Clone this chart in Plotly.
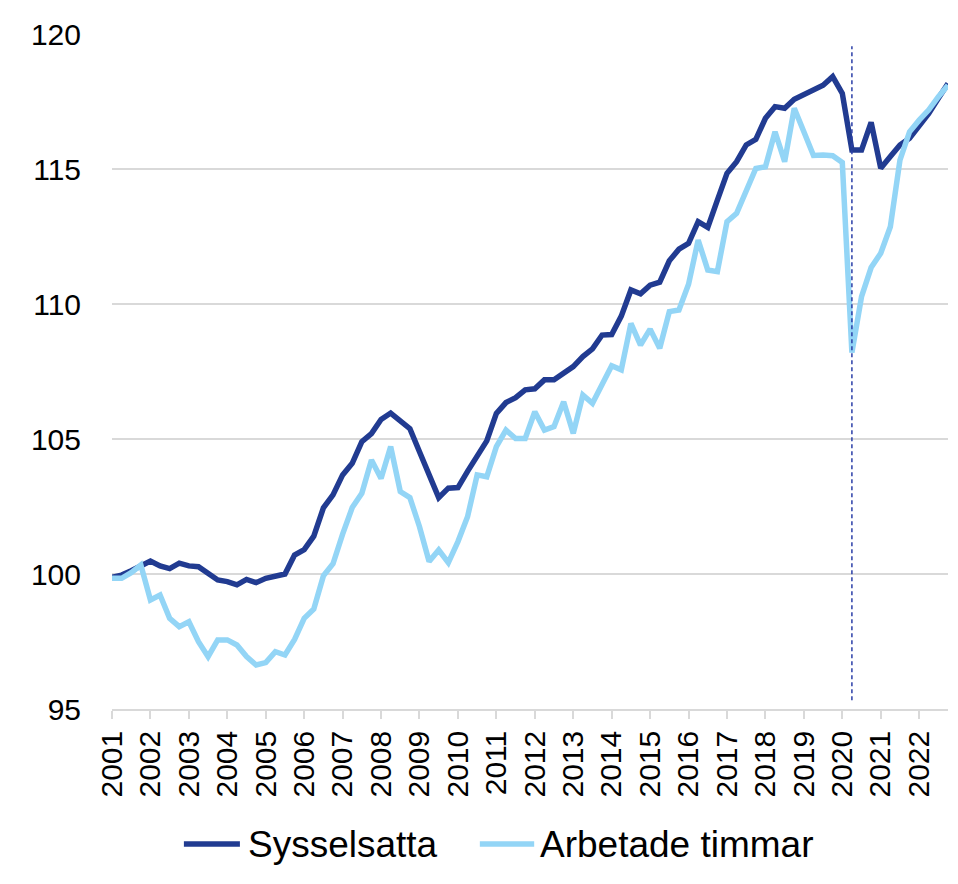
import plotly.graph_objects as go

# Kvartal 2001 K1 - 2022 K4
år = list(range(2001, 2023))
kvartal = [f"{a} K{k}" for a in år for k in range(1, 5)]

# Index, 2001 K1 = 100
sysselsatta = [
    99.88, 99.96, 100.12, 100.3, 100.48, 100.3, 100.2, 100.4,
    100.3, 100.27, 100.02, 99.78, 99.72, 99.6, 99.8, 99.68,
    99.84, 99.9, 100.0, 100.7, 100.9, 101.4, 102.45, 102.93,
    103.67, 104.1, 104.9, 105.2, 105.72, 105.96, 105.69, 105.38,
    104.53, 103.73, 102.83, 103.18, 103.2, 103.8, 104.35, 104.93,
    105.95, 106.35, 106.53, 106.82, 106.86, 107.19, 107.19, 107.43,
    107.68, 108.05, 108.34, 108.85, 108.87, 109.55, 110.52, 110.38,
    110.7, 110.81, 111.6, 112.03, 112.25, 113.05, 112.84, 113.85,
    114.84, 115.27, 115.89, 116.1, 116.88, 117.31, 117.25, 117.58,
    117.74, 117.9, 118.1, 118.42, 117.8, 115.7, 115.7, 116.73,
    115.03, 115.46, 115.89, 116.14, 116.57, 117.06, 117.62, 118.17,
]
arbetade_timmar = [
    99.84, 99.84, 100.05, 100.33, 99.04, 99.22, 98.36, 98.05,
    98.23, 97.49, 96.94, 97.56, 97.56, 97.37, 96.94, 96.63,
    96.72, 97.12, 97.0, 97.58, 98.36, 98.7, 99.93, 100.38,
    101.48, 102.46, 102.99, 104.22, 103.54, 104.72, 103.05, 102.83,
    101.75, 100.46, 100.89, 100.42, 101.2, 102.12, 103.67, 103.6,
    104.72, 105.33, 105.02, 105.02, 106.01, 105.33, 105.46, 106.38,
    105.21, 106.63, 106.32, 107.0, 107.71, 107.56, 109.28, 108.48,
    109.07, 108.36, 109.72, 109.78, 110.73, 112.37, 111.26, 111.2,
    113.05, 113.36, 114.25, 115.02, 115.08, 116.38, 115.27, 117.25,
    116.38, 115.5, 115.52, 115.49, 115.24, 108.2, 110.27, 111.35,
    111.88, 112.86, 115.33, 116.38, 116.81, 117.19, 117.68, 118.1,
]

pandemi_kvartal = "2020 K2"

mörkblå = "#213b91"
ljusblå = "#93d5f6"
grå = "#d9d9d9"
typsnitt = "Liberation Sans, Arial, sans-serif"

serier = [("Sysselsatta", sysselsatta, mörkblå), ("Arbetade timmar", arbetade_timmar, ljusblå)]

fig = go.Figure()
for namn, värden, färg in serier:
    fig.add_trace(go.Scatter(x=kvartal, y=värden, name=namn, mode="lines",
                             line=dict(color=färg, width=5.5), showlegend=False))

# streckad linje vid pandemins start
fig.add_shape(type="line", xref="x", yref="paper",
              x0=pandemi_kvartal, x1=pandemi_kvartal, y0=0.013, y1=0.982,
              line=dict(color="#2b3fa8", width=1.5, dash="4px,3px"))

# egen teckenförklaring (längre linjeprov som i originalet)
legend_x = [(0.086, 0.153, 0.160), (0.440, 0.505, 0.510)]
for (namn, _, färg), (x0, x1, xt) in zip(serier, legend_x):
    fig.add_shape(type="line", xref="paper", yref="paper", x0=x0, x1=x1,
                  y0=-0.2, y1=-0.2, line=dict(color=färg, width=5.5))
    fig.add_annotation(text=namn, xref="paper", yref="paper", x=xt, y=-0.2,
                       xanchor="left", yanchor="middle", showarrow=False,
                       font=dict(size=37, color="black"))

fig.update_layout(
    width=950, height=876,
    margin=dict(l=104, r=10, t=26, b=175),
    paper_bgcolor="white", plot_bgcolor="white",
    font=dict(family=typsnitt, size=30, color="black"),
    showlegend=False,
    xaxis=dict(type="category", range=[0, len(kvartal) - 1],
               tickmode="array", tickvals=kvartal[::4], ticktext=[str(a) for a in år],
               tickangle=-90, ticks="outside", ticklen=8, tickwidth=1.5, tickcolor=grå,
               showline=True, linecolor=grå, linewidth=1.5, showgrid=False,
               tickfont=dict(size=30)),
    yaxis=dict(range=[95, 120], tickvals=[95, 100, 105, 110, 115, 120],
               showgrid=True, gridcolor=grå, gridwidth=1.5, zeroline=False,
               ticks="", ticklabelstandoff=30, tickfont=dict(size=30)),
)

fig.write_html("out.html")
